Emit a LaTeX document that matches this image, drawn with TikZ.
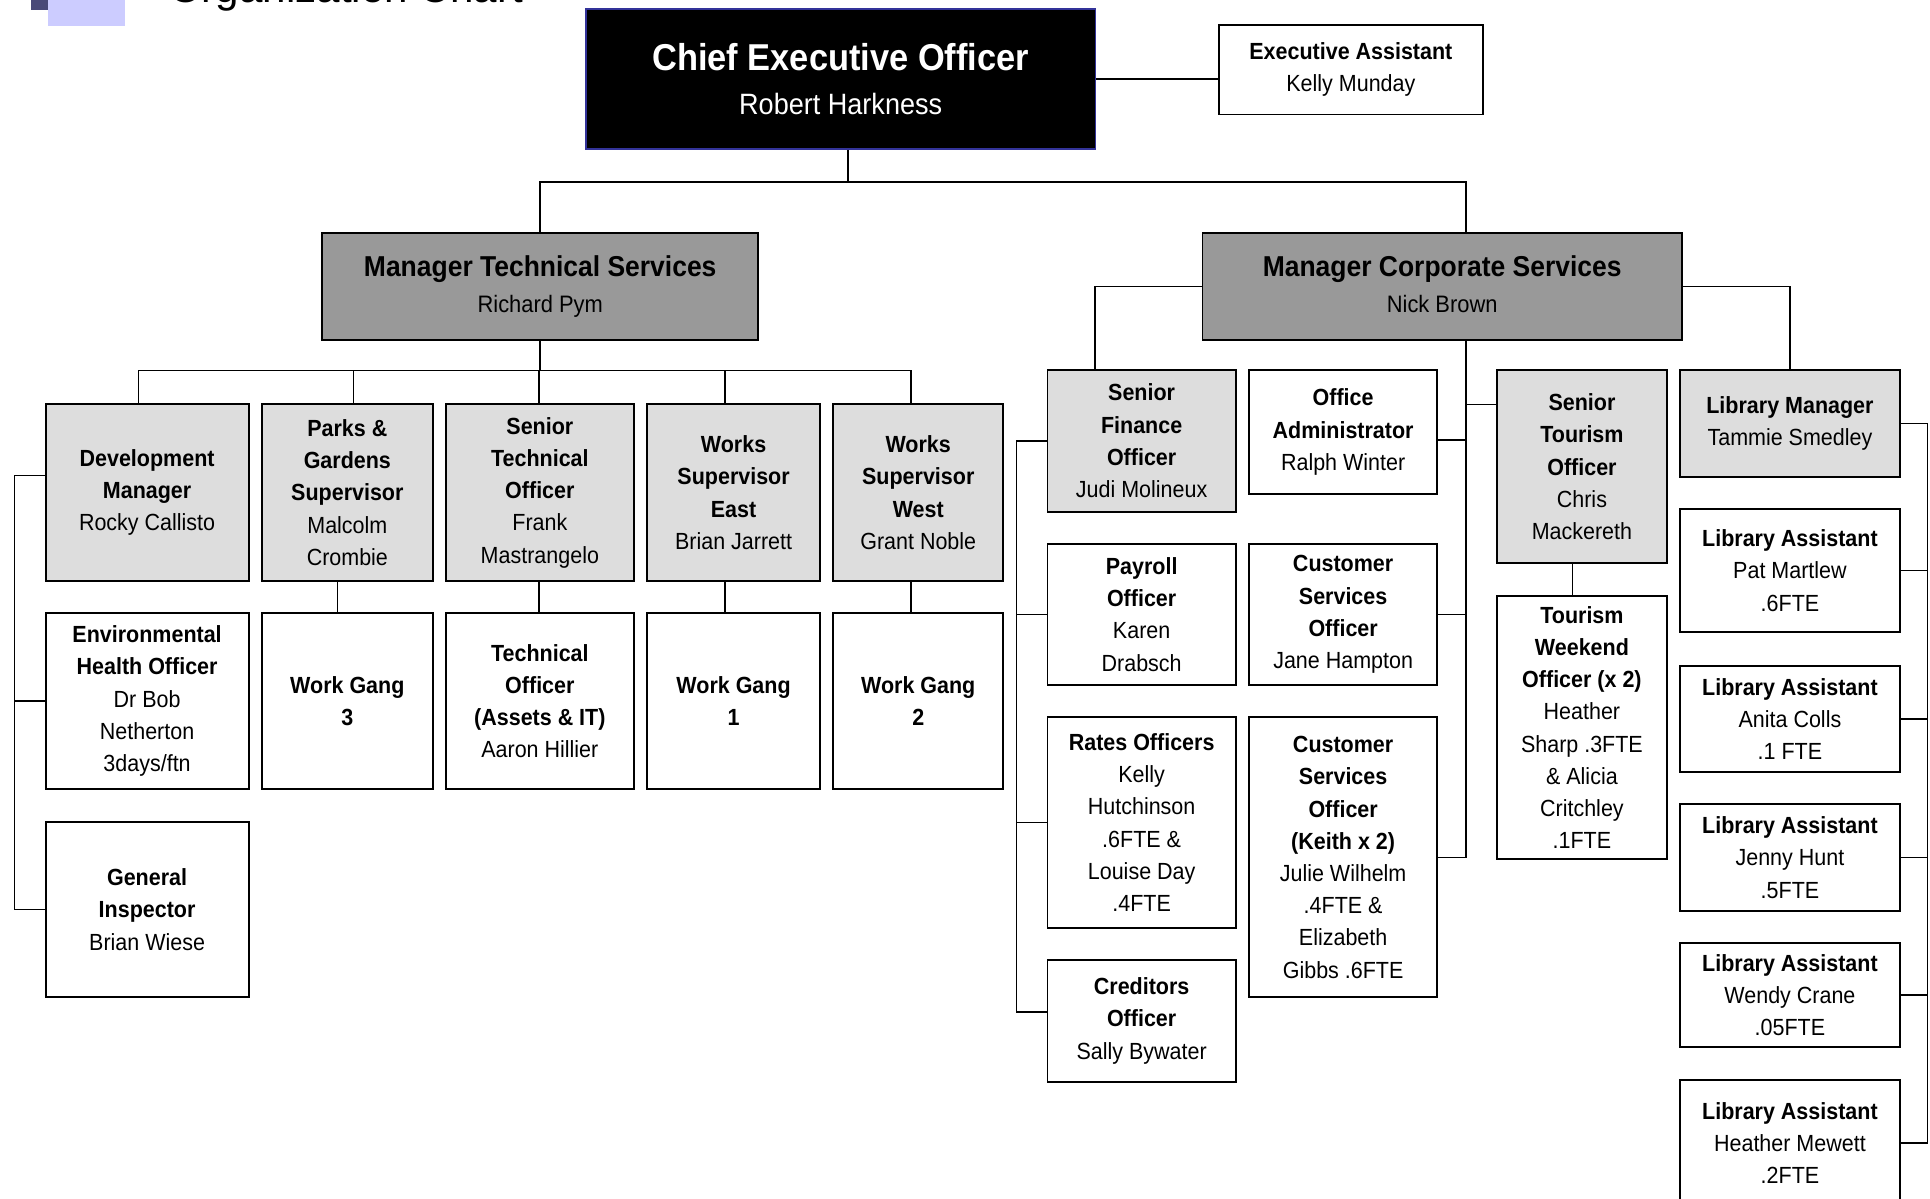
\documentclass[tikz,border=0pt]{standalone}
\usepackage{fontspec}
\setmainfont{Liberation Sans}[FakeStretch=0.92]
\newfontfamily\titlefont{Liberation Sans}
\definecolor{ceoedge}{RGB}{51,51,153}
\definecolor{headgray}{RGB}{153,153,153}
\definecolor{staffgray}{RGB}{221,221,221}
\definecolor{bulletdark}{RGB}{74,74,120}
\definecolor{bulletlight}{RGB}{204,204,255}
\begin{document}
\begin{tikzpicture}[x=0.02cm,y=-0.02cm,
    box/.style 2 args={draw,line width=0.9pt,inner sep=0pt,align=center,
      minimum width=#1*0.02cm,minimum height=#2*0.02cm,
      font=\fontsize{10.8}{14.9}\selectfont},
    plain/.style={fill=white},
    shaded/.style={fill=staffgray},
    head/.style={fill=headgray,font=\fontsize{11}{16.3}\selectfont},
    link/.style={line width=0.7pt}]
  \useasboundingbox (0,0) rectangle (1568,974);
  \fill[bulletdark] (25,-20) rectangle (39,8.5);
  \fill[bulletlight] (39,-20) rectangle (101.5,21.5);
  \node[anchor=base west,inner sep=0pt,font=\titlefont\fontsize{19.5}{23}\selectfont] (title) at (137,2) {Organization Chart};

  \node[box={414}{114},fill=black,draw=ceoedge,text=white,font=\fontsize{13.6}{20.4}\selectfont] (CEO) at (683,64)
    {{\fontsize{17.3}{20.4}\selectfont\bfseries Chief Executive Officer}\\Robert Harkness};
  \node[box={215}{73},plain] (EA) at (1097.5,56.5) {\textbf{Executive Assistant}\\Kelly Munday};
  \node[box={354}{86.5},head] (MTS) at (438.9,232.7)
    {{\fontsize{13.3}{16.3}\selectfont\bfseries Manager Technical Services}\\Richard Pym};
  \node[box={389.5}{86.5},head] (MCS) at (1171.7,232.7)
    {{\fontsize{13.3}{16.3}\selectfont\bfseries Manager Corporate Services}\\Nick Brown\vphantom{y}};

  \foreach \n/\x/\w/\t in {
      DEV/119.5/165/{\textbf{Development}\\\textbf{Manager}\\Rocky Callisto},
      PAR/282.2/138.5/{\textbf{Parks \&}\\\textbf{Gardens}\\\textbf{Supervisor}\\Malcolm\\Crombie},
      STO/438.6/152.3/{\textbf{Senior}\\\textbf{Technical}\\\textbf{Officer}\\Frank\\Mastrangelo},
      WSE/596/140/{\textbf{Works}\\\textbf{Supervisor}\\\textbf{East}\\Brian Jarrett},
      WSW/746/138/{\textbf{Works}\\\textbf{Supervisor}\\\textbf{West}\\Grant Noble}}{
    \node[box={\w}{143.3},shaded] (\n) at (\x,400.2) {\t};
  }
  \foreach \n/\x/\w/\t in {
      EHO/119.5/165/{\textbf{Environmental}\\\textbf{Health Officer}\\Dr Bob\\Netherton\\3days/ftn},
      WG3/282.2/138.5/{\textbf{Work Gang}\\\textbf{3}},
      TEC/438.6/152.3/{\textbf{Technical}\\\textbf{Officer}\\\textbf{(Assets \& IT)}\\Aaron Hillier},
      WG1/596/140/{\textbf{Work Gang}\\\textbf{1}},
      WG2/746/138/{\textbf{Work Gang}\\\textbf{2}}}{
    \node[box={\w}{143.6},plain] (\n) at (\x,569.5) {\t};
  }
  \node[box={165}{142.8},plain] (GI) at (119.5,738.9) {\textbf{General}\\\textbf{Inspector}\\Brian Wiese};

  \foreach \n/\x/\y/\w/\h/\c/\t in {
      SFO/927.5/358.2/153/115/staffgray/{\textbf{Senior}\\\textbf{Finance}\\\textbf{Officer}\\Judi Molineux},
      OA/1091.2/351/152.5/100.7/white/{\textbf{Office}\\\textbf{Administrator}\\Ralph Winter},
      TSO/1285.2/379.2/138.5/157/staffgray/{\textbf{Senior}\\\textbf{Tourism}\\\textbf{Officer}\\Chris\\Mackereth},
      LM/1454.2/344/178.5/86.7/staffgray/{\textbf{Library Manager}\\Tammie Smedley},
      PAY/927.5/499.2/153/114.5/white/{\textbf{Payroll}\\\textbf{Officer}\\Karen\\Drabsch},
      CS1/1091.2/499.2/152.5/114.5/white/{\textbf{Customer}\\\textbf{Services}\\\textbf{Officer}\\Jane Hampton},
      RAT/927.5/668.2/153/171/white/{\textbf{Rates Officers}\\Kelly\\Hutchinson\\.6FTE \&\\Louise Day\\.4FTE},
      CS2/1091.2/696.5/152.5/227.5/white/{\textbf{Customer}\\\textbf{Services}\\\textbf{Officer}\\\textbf{(Keith x 2)}\\Julie Wilhelm\\.4FTE \&\\Elizabeth\\Gibbs .6FTE},
      CRE/927.5/829.4/153/98.8/white/{\textbf{Creditors}\\\textbf{Officer}\\Sally Bywater},
      TWO/1285.2/591/138.5/214/white/{\textbf{Tourism}\\\textbf{Weekend}\\\textbf{Officer (x 2)}\\Heather\\Sharp .3FTE\\\& Alicia\\Critchley\\.1FTE}}{
    \node[box={\w}{\h},fill=\c] (\n) at (\x,\y) {\t};
  }
  \foreach \i/\y/\h/\who/\fte in {1/463.6/100.2/Pat Martlew/.6FTE, 2/584/86/Anita Colls/.1 FTE,
      3/696.6/86.3/Jenny Hunt/.5FTE, 4/808.4/85/Wendy Crane/.05FTE, 5/928.7/102.6/Heather Mewett/.2FTE}{
    \node[box={178.5}{\h},plain] (LA\i) at (1454.2,\y) {\textbf{Library Assistant}\\\who\\\fte};
  }

  \coordinate (bus) at (689,148);
  \coordinate (stemC) at (1191,0);
  \draw[link] (CEO.east) -- (CEO.east -| EA.west);
  \draw[link] (bus |- CEO.south) -- (bus);
  \draw[link] (MTS.north) |- (bus) -| (stemC |- MCS.north);

  \foreach \n/\x in {DEV/112.6, PAR/287, STO/437.7, WSE/588.8, WSW/740}{
    \coordinate (tb\n) at (\x,301);
    \draw[link] (tb\n) -- (tb\n |- \n.north);
  }
  \draw[link] (MTS.south) -- (MTS.south |- tbDEV);
  \draw[link] (tbDEV) -- (tbWSW);
  \foreach \a/\b/\x in {PAR/WG3/274.3, STO/TEC/438, WSE/WG1/589, WSW/WG2/740}{
    \coordinate (d\b) at (\x,0);
    \draw[link] (d\b |- \a.south) -- (d\b |- \b.north);
  }
  \coordinate (dx) at (11.6,0);
  \draw[link] ([yshift=8pt]DEV.west) -| (dx |- GI.west) -- (GI.west);
  \draw[link] (EHO.west) -- (EHO.west -| dx);

  \coordinate (sx) at (889.5,0);
  \draw[link] (MCS.west) -| (sx |- SFO.north);
  \draw[link] (MCS.east) -| (LM.north);
  \draw[link] (MCS.south -| stemC) -- (stemC |- CS2.east) -- (CS2.east);
  \draw[link] (stemC |- CS1.east) -- (CS1.east);
  \coordinate (tsC) at (1191,328.5);
  \coordinate (oaC) at (1191,357.5);
  \draw[link] (tsC) -- (tsC -| TSO.west);
  \draw[link] (oaC) -- (oaC -| OA.east);

  \coordinate (fx) at (826,0);
  \coordinate (crC) at ([yshift=4pt]CRE.west);
  \draw[link] (SFO.west) -| (fx |- crC) -- (crC);
  \draw[link] (PAY.west) -- (PAY.west -| fx);
  \draw[link] (RAT.west) -- (RAT.west -| fx);

  \coordinate (tx) at (1277.5,0);
  \draw[link] (tx |- TSO.south) -- (tx |- TWO.north);

  \coordinate (lx) at (1566,0);
  \draw[link] (LM.east) -- (LM.east -| lx) -- (lx |- LA5.east) -- (LA5.east);
  \foreach \i in {1,...,4}{
    \draw[link] (LA\i.east) -- (LA\i.east -| lx);
  }
\end{tikzpicture}
\end{document}
